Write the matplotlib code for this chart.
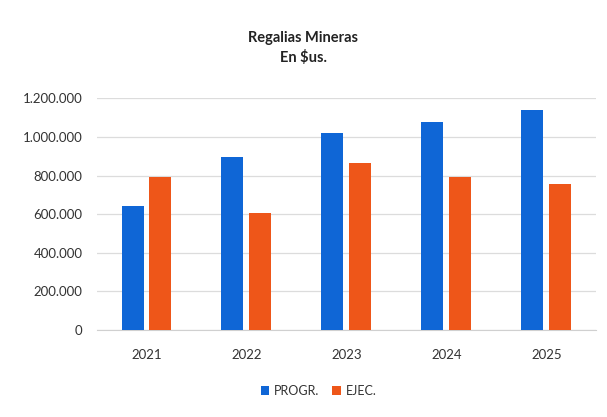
import numpy as np
import matplotlib.pyplot as plt

# Datos
anios = ["2021", "2022", "2023", "2024", "2025"]
progr = [645000, 897000, 1020000, 1080000, 1141000]
ejec = [795000, 607000, 865000, 793000, 757000]

plt.rcParams["font.family"] = ["Lato", "DejaVu Sans"]

fig = plt.figure(figsize=(6.07, 4.17), dpi=100)
ax = fig.add_axes([0.159, 0.2086, 0.8235, 0.5554])

x = np.arange(len(anios))
ancho = 0.22
ax.bar(x - 0.14, progr, ancho, color="#0f66d6", label="PROGR.", zorder=3)
ax.bar(x + 0.14, ejec, ancho, color="#ee5619", label="EJEC.", zorder=3)

ax.set_xlim(-0.5, 4.5)
ax.set_ylim(0, 1200000)
ax.set_yticks(range(0, 1200001, 200000))
ax.set_yticklabels([f"{v:,}".replace(",", ".") for v in range(0, 1200001, 200000)])
ax.set_xticks(x)
ax.set_xticklabels(anios)
ax.grid(axis="y", color="#dcdcdc", linewidth=0.9, zorder=0)
for s in ax.spines.values():
    s.set_visible(False)
ax.spines["bottom"].set_visible(True)
ax.spines["bottom"].set_color("#d0d0d0")
ax.tick_params(axis="both", length=0, labelsize=9.5, colors="#333333")
ax.tick_params(axis="y", pad=10)
ax.tick_params(axis="x", pad=14)

fig.text(0.5, 0.91, "Regalias Mineras", ha="center", va="center",
         fontsize=10.5, fontweight="bold", color="#222222")
fig.text(0.5, 0.862, "En $us.", ha="center", va="center",
         fontsize=10.5, fontweight="bold", color="#222222")

fig.legend(loc="center", bbox_to_anchor=(0.525, 0.062), ncol=2, frameon=False,
           fontsize=9, handlelength=0.7, handleheight=0.7, columnspacing=1.0,
           handletextpad=0.4, labelcolor="#333333")

fig.savefig("out.png", dpi=100)
